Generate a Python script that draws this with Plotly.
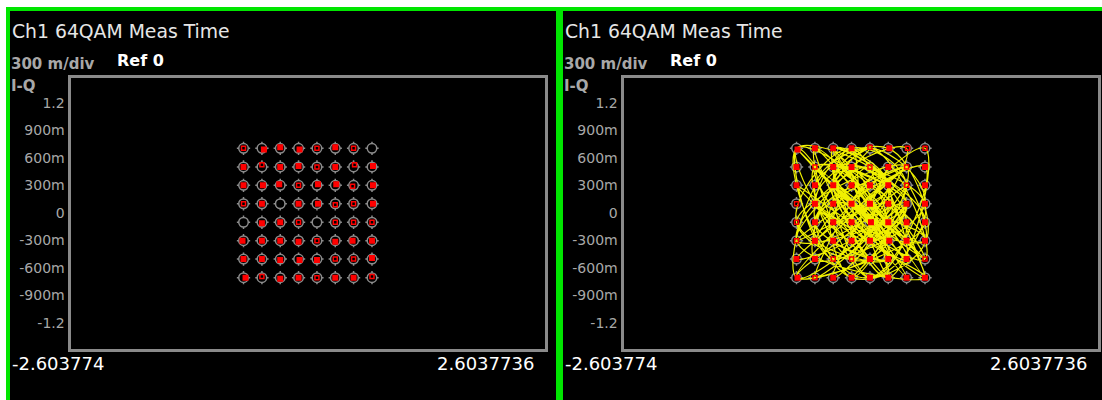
import plotly.graph_objects as go

W, H = 1102, 400

# ---------------- data ----------------
title_text = "Ch1 64QAM Meas Time"
scale_text = "300 m/div"
ref_text = "Ref 0"
trace_text = "I-Q"
x_min_label = "-2.603774"
x_max_label = "2.6037736"
x_range = [-2.603774, 2.6037736]
y_range = [-1.478, 1.478]

y_tick_vals = [1.2, 0.9, 0.6, 0.3, 0.0, -0.3, -0.6, -0.9, -1.2]
y_tick_text = ["1.2", "900m", "600m", "300m", "0", "-300m", "-600m", "-900m", "-1.2"]

# 64QAM ideal levels (I and Q)
levels = [-0.705, -0.503, -0.302, -0.101, 0.101, 0.302, 0.503, 0.705]

# left panel measured symbols: 0 = none, 1 = small, 2 = full (rows top -> bottom)
left_size = [
    [1, 2, 2, 2, 1, 2, 1, 0],
    [2, 1, 2, 2, 1, 2, 1, 2],
    [2, 2, 2, 1, 2, 2, 1, 2],
    [1, 2, 0, 2, 2, 1, 1, 2],
    [0, 2, 2, 1, 0, 1, 1, 1],
    [2, 2, 2, 2, 1, 2, 2, 2],
    [2, 2, 2, 2, 2, 1, 1, 2],
    [2, 1, 2, 2, 1, 2, 2, 1],
]
# offsets from ideal, hundredths of a unit
left_dx = [
    [0, 2, 0, 1, 0, 0, 0, 0],
    [0, 0, 0, 0, 0, 0, 1, 1],
    [0, 1, -1, 0, 1, 1, -1, 1],
    [0, 0, 0, 0, 1, 0, 0, 1],
    [0, 0, 0, 0, 0, 0, 0, 0],
    [-1, 0, 0, 0, 0, 0, -1, 0],
    [0, 0, 0, 1, 0, 0, 0, 0],
    [2, 0, 0, 0, 0, 0, 0, 0],
]
left_dy = [
    [0, -1, 1, -1, 0, 1, 0, 0],
    [0, 2, 0, 1, 0, 0, 2, 1],
    [0, 0, 1, 0, 1, 1, -1, 0],
    [0, 0, 0, 0, 0, -1, 0, 0],
    [0, -1, 0, 0, 0, 0, 0, 0],
    [0, 0, 0, -1, 0, -1, 0, 0],
    [0, 0, -1, -1, -1, 0, 0, 1],
    [0, 1, -1, 0, 0, 0, 0, 1],
]

right_size = [
    [2, 2, 2, 2, 1, 2, 1, 1],
    [2, 1, 2, 2, 1, 2, 1, 2],
    [2, 2, 2, 2, 2, 2, 1, 2],
    [1, 2, 2, 2, 2, 2, 2, 2],
    [1, 2, 2, 2, 2, 2, 2, 2],
    [1, 2, 2, 2, 2, 2, 2, 2],
    [2, 2, 1, 1, 2, 2, 2, 1],
    [2, 1, 2, 2, 2, 2, 2, 2],
]
right_dx = [
    [1, 0, 0, 0, 0, 1, 1, 0],
    [0, 0, 0, 0, 0, 0, 0, 0],
    [0, 0, 0, 0, 0, 0, 0, 0],
    [0, 0, 0, 0, 0, 0, 0, 0],
    [0, 0, 0, 0, 1, 0, 0, 0],
    [0, 0, 0, 0, 0, 1, 0, 0],
    [0, 0, 0, 0, 0, 0, 0, 0],
    [1, 0, 0, 0, 0, 0, 0, 0],
]
right_dy = [
    [-1, 0, 0, 0, 1, 0, 0, 0],
    [0, 0, 0, 0, 0, 0, 0, 0],
    [0, 0, 0, 0, 0, 0, 0, 0],
    [0, 0, 0, 0, 0, 0, 0, 0],
    [0, 0, 0, 0, 0, 0, 0, 0],
    [0, 0, 0, 0, 0, 0, 0, 0],
    [0, 0, 0, 0, 0, 0, 0, 0],
    [0, 0, 0, 0, 0, 0, 0, 0],
]

# symbol sequence (I index, Q index) for the time trajectory in the right panel
sym_i = [3, 6, 1, 4, 7, 2, 5, 0, 3, 5, 2, 6, 4, 1, 7, 3, 0, 5, 2, 4,
         6, 3, 1, 7, 4, 2, 5, 0, 6, 3, 4, 1, 5, 7, 2, 3, 6, 0, 4, 5,
         2, 7, 1, 3, 5, 4, 6, 2, 0, 3, 7, 5, 1, 4, 2, 6, 3, 5, 0, 7,
         4, 1, 3, 6, 2, 5, 4, 0, 7, 3, 5, 2, 6, 1, 4, 3, 7, 0, 5, 2,
         4, 6, 1, 3, 5, 7, 2, 4, 0, 6, 3, 5, 1, 4, 7, 2, 5, 3, 6, 0,
         4, 2, 5, 7, 1, 3, 6, 4, 2, 5, 0, 3, 7, 4, 6, 1, 5, 2, 3, 4,
         6, 0, 2, 5, 7, 3, 1, 4, 6, 2, 5, 3, 0, 7, 4, 1, 6, 3, 5, 2,
         7, 4, 0, 3, 6, 1, 5, 4, 2, 6]
sym_q = [5, 2, 7, 0, 4, 6, 1, 3, 7, 2, 5, 0, 3, 6, 1, 4, 7, 2, 5, 0,
         3, 6, 1, 4, 7, 5, 2, 0, 6, 3, 1, 5, 7, 2, 4, 0, 6, 3, 1, 5,
         7, 2, 4, 6, 0, 3, 5, 1, 7, 4, 2, 6, 0, 3, 5, 7, 1, 4, 2, 6,
         0, 3, 7, 5, 1, 4, 6, 2, 0, 3, 5, 7, 1, 4, 2, 6, 3, 0, 5, 7,
         2, 4, 6, 1, 3, 0, 5, 7, 2, 4, 6, 1, 3, 5, 0, 7, 2, 4, 6, 1,
         3, 5, 0, 7, 2, 4, 1, 6, 3, 5, 7, 0, 2, 4, 6, 3, 1, 5, 7, 2,
         4, 0, 6, 3, 1, 5, 7, 2, 4, 0, 6, 3, 5, 1, 7, 2, 4, 0, 3, 6,
         1, 5, 7, 2, 4, 6, 0, 3, 5, 1]

# ---------------- styling ----------------
BG = "#000000"
GREEN = "#00e600"
FRAME = "#8a8a8a"
RING = "#8c8c8c"
RED = "#ff0000"
YELLOW = "#f0f000"
TICKC = "#a8a8a8"
FONT = "DejaVu Sans, Verdana, sans-serif"


def px(x):
    return x / W


def py(y):
    return 1 - y / H


panels = [
    dict(xa="x", ya="y", dom=[px(70.5), px(545)], left=0),
    dict(xa="x2", ya="y2", dom=[px(623.5), px(1098)], left=553),
]
ydom = [py(348.5), py(77.5)]

fig = go.Figure()


def grid_xy():
    gx, gy = [], []
    for r in range(8):
        for c in range(8):
            gx.append(levels[c])
            gy.append(levels[7 - r])
    return gx, gy


def meas(size, dx, dy):
    out = {1: ([], []), 2: ([], [])}
    for r in range(8):
        for c in range(8):
            s = size[r][c]
            if s == 0:
                continue
            out[s][0].append(levels[c] + 0.011 * dx[r][c])
            out[s][1].append(levels[7 - r] + 0.011 * dy[r][c])
    return out


gx, gy = grid_xy()
for k, p in enumerate(panels):
    # reference rings with small ticks
    fig.add_trace(go.Scatter(x=gx, y=gy, xaxis=p["xa"], yaxis=p["ya"], mode="markers",
                             marker=dict(symbol="cross-thin-open", size=9.5, color=RING,
                                         line=dict(color=RING, width=1.5)),
                             hoverinfo="skip", showlegend=False))
    fig.add_trace(go.Scatter(x=gx, y=gy, xaxis=p["xa"], yaxis=p["ya"], mode="markers",
                             marker=dict(symbol="circle", size=9.5, color=BG,
                                         line=dict(color=RING, width=1.5)),
                             hoverinfo="skip", showlegend=False))
    if k == 1:
        tx = [levels[i] for i in sym_i]
        ty = [levels[q] for q in sym_q]
        fig.add_trace(go.Scatter(x=tx, y=ty, xaxis=p["xa"], yaxis=p["ya"], mode="lines",
                                 line=dict(color=YELLOW, width=1.2, shape="spline", smoothing=1.3),
                                 hoverinfo="skip", showlegend=False))
        m = meas(right_size, right_dx, right_dy)
    else:
        m = meas(left_size, left_dx, left_dy)
    fig.add_trace(go.Scatter(x=m[2][0], y=m[2][1], xaxis=p["xa"], yaxis=p["ya"], mode="markers",
                             marker=dict(symbol="square", size=6, color=RED, line=dict(width=0)),
                             hoverinfo="skip", showlegend=False))
    fig.add_trace(go.Scatter(x=m[1][0], y=m[1][1], xaxis=p["xa"], yaxis=p["ya"], mode="markers",
                             marker=dict(symbol="square-open", size=4, color=RED,
                                         line=dict(color=RED, width=1.5)),
                             hoverinfo="skip", showlegend=False))

axis_common = dict(showgrid=False, zeroline=False, showline=True, mirror=True,
                   linecolor=FRAME, linewidth=3, fixedrange=True)

layout = dict(
    width=W, height=H, margin=dict(l=0, r=0, t=0, b=0),
    paper_bgcolor=BG, plot_bgcolor=BG, showlegend=False,
    xaxis=dict(domain=panels[0]["dom"], range=x_range, showticklabels=False, anchor="y", **axis_common),
    yaxis=dict(domain=ydom, range=y_range, anchor="x", tickvals=y_tick_vals, ticktext=y_tick_text,
               tickfont=dict(family=FONT, size=14, color=TICKC), ticks="", **axis_common),
    xaxis2=dict(domain=panels[1]["dom"], range=x_range, showticklabels=False, anchor="y2", **axis_common),
    yaxis2=dict(domain=ydom, range=y_range, anchor="x2", tickvals=y_tick_vals, ticktext=y_tick_text,
                tickfont=dict(family=FONT, size=14, color=TICKC), ticks="", **axis_common),
)
fig.update_layout(**layout)

shapes = [
    dict(type="rect", xref="paper", yref="paper", x0=0, x1=px(6), y0=0, y1=1,
         fillcolor="#ffffff", line=dict(width=0), layer="above"),
    dict(type="rect", xref="paper", yref="paper", x0=0, x1=1, y0=py(7), y1=1,
         fillcolor="#ffffff", line=dict(width=0), layer="above"),
    dict(type="rect", xref="paper", yref="paper", x0=px(6), x1=px(10), y0=0, y1=py(7),
         fillcolor=GREEN, line=dict(width=0), layer="above"),
    dict(type="rect", xref="paper", yref="paper", x0=px(6), x1=1, y0=py(11), y1=py(7),
         fillcolor=GREEN, line=dict(width=0), layer="above"),
    dict(type="rect", xref="paper", yref="paper", x0=px(556), x1=px(563), y0=0, y1=py(7),
         fillcolor=GREEN, line=dict(width=0), layer="above"),
]
fig.update_layout(shapes=shapes)

ann = []
for p in panels:
    o = p["left"]
    ann += [
        dict(text=title_text, x=px(10 + o), y=py(31), xanchor="left", yanchor="middle",
             font=dict(family=FONT, size=18.8, color="#e6e6e6")),
        dict(text="<b>" + scale_text + "</b>", x=px(9 + o), y=py(64), xanchor="left", yanchor="middle",
             font=dict(family=FONT, size=15, color="#a8a8a8")),
        dict(text="<b>" + ref_text + "</b>", x=px(115 + o), y=py(61), xanchor="left", yanchor="middle",
             font=dict(family=FONT, size=16, color="#ffffff")),
        dict(text="<b>" + trace_text + "</b>", x=px(9 + o), y=py(86), xanchor="left", yanchor="middle",
             font=dict(family=FONT, size=15, color="#a8a8a8")),
        dict(text=x_min_label, x=px(10 + o), y=py(363.5), xanchor="left", yanchor="middle",
             font=dict(family=FONT, size=18, color="#ffffff")),
        dict(text=x_max_label, x=px(536 + o), y=py(363.5), xanchor="right", yanchor="middle",
             font=dict(family=FONT, size=18, color="#ffffff")),
    ]
for a in ann:
    a.update(xref="paper", yref="paper", showarrow=False)
fig.update_layout(annotations=ann)

fig.write_html("out.html")
